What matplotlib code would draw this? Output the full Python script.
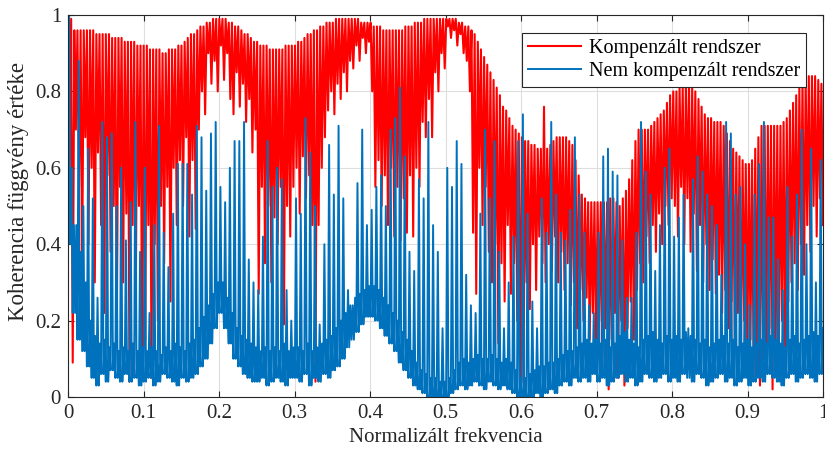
import numpy as np
import matplotlib
matplotlib.use('Agg')
import matplotlib.pyplot as plt

# values, in hundredths
# red: one "top" and one "dip" per cycle, 240 cycles over 0..1
red_top = [
    100, 99, 96, 96, 96, 96, 96, 96, 96, 95, 95, 95, 95, 95, 94, 94, 94, 94, 93, 93, 93, 93, 92, 92,
    92, 92, 91, 91, 91, 91, 90, 90, 91, 91, 91, 92, 92, 93, 94, 95, 95, 96, 97, 97, 98, 98, 99, 99,
    99, 99, 99, 98, 98, 97, 97, 96, 95, 95, 94, 93, 93, 92, 92, 92, 91, 91, 91, 91, 91, 92, 92, 92,
    92, 93, 93, 94, 95, 95, 96, 96, 97, 97, 98, 98, 98, 99, 99, 99, 99, 99, 99, 99, 99, 98, 98, 98,
    98, 97, 97, 97, 96, 96, 96, 96, 96, 96, 96, 97, 97, 97, 98, 98, 98, 99, 99, 99, 99, 99, 99, 99,
    99, 99, 99, 99, 98, 98, 97, 97, 96, 95, 93, 91, 89, 87, 85, 83, 81, 79, 76, 75, 73, 71, 70, 69,
    68, 67, 67, 66, 66, 65, 65, 76, 65, 66, 67, 68, 68, 68, 68, 67, 66, 62, 58, 53, 52, 51, 51, 51,
    51, 51, 51, 51, 52, 52, 51, 50, 52, 54, 57, 62, 67, 70, 70, 70, 70, 71, 72, 73, 74, 75, 77, 79,
    80, 80, 81, 81, 82, 82, 81, 80, 78, 76, 74, 73, 73, 72, 72, 72, 71, 69, 67, 65, 64, 63, 62, 61,
    61, 62, 65, 68, 71, 71, 71, 71, 71, 71, 71, 72, 73, 75, 77, 79, 81, 83, 84, 84, 84, 84, 83, 82,
]
red_dip = [
    62, 9, 70, 55, 35, 68, 40, 60, 30, 64, 45, 22, 58, 38, 50, 18, 55, 30, 48, 4, 45, 25, 50, 12,
    15, 45, 5, 40, 20, 50, 35, 55, 25, 60, 45, 62, 50, 68, 42, 62, 44, 70, 80, 74, 90, 82, 88, 80,
    92, 83, 90, 78, 74, 85, 76, 82, 72, 78, 64, 70, 27, 55, 35, 50, 30, 47, 40, 55, 19, 50, 42, 55,
    60, 48, 63, 52, 58, 45, 4, 45, 60, 68, 75, 80, 74, 82, 78, 85, 80, 88, 86, 92, 88, 94, 90, 93,
    80, 55, 62, 50, 58, 45, 60, 42, 55, 41, 52, 43, 58, 42, 60, 55, 72, 68, 78, 68, 85, 80, 90, 86,
    97, 94, 96, 92, 95, 90, 88, 80, 43, 27, 60, 45, 55, 38, 30, 40, 14, 35, 25, 45, 27, 35, 20, 3,
    4, 30, 23, 40, 28, 42, 35, 30, 40, 33, 42, 30, 38, 28, 35, 24, 30, 18, 28, 20, 26, 15, 22, 14,
    20, 8, 18, 2, 15, 22, 5, 20, 3, 18, 25, 15, 28, 35, 30, 42, 35, 45, 38, 48, 40, 50, 45, 52,
    50, 42, 55, 40, 52, 38, 48, 33, 45, 30, 40, 28, 36, 27, 32, 22, 28, 18, 25, 15, 22, 12, 20, 10,
    15, 5, 12, 3, 10, 8, 18, 2, 15, 12, 20, 10, 25, 30, 35, 28, 40, 32, 45, 38, 50, 42, 52, 45,
]

# blue: 160 cycles over 0..1, each cycle is low, peak, low, mid
blue_peak = [
    100, 45, 88, 50, 65, 52, 26, 72, 68, 69, 50, 60, 41, 51, 72, 38,
    60, 22, 45, 71, 43, 34, 48, 61, 61, 61, 53, 71, 68, 54, 69, 72,
    55, 51, 60, 67, 67, 72, 36, 30, 28, 42, 67, 55, 60, 57, 28, 20,
    52, 48, 73, 64, 50, 19, 40, 66, 53, 71, 52, 28, 24, 56, 70, 45,
    49, 55, 58, 50, 70, 73, 81, 63, 38, 33, 57, 52, 72, 45, 38, 18,
    60, 55, 67, 61, 32, 24, 22, 48, 70, 52, 67, 38, 18, 30, 42, 67,
    74, 48, 25, 18, 52, 43, 72, 53, 43, 41, 49, 68, 53, 43, 24, 22,
    43, 63, 65, 59, 58, 41, 26, 26, 43, 72, 59, 53, 33, 45, 60, 65,
    42, 47, 53, 18, 57, 63, 59, 53, 50, 45, 32, 72, 69, 53, 55, 40,
    24, 53, 61, 72, 47, 47, 36, 28, 55, 42, 53, 70, 40, 65, 30, 62,
]
blue_low = [
    40, 22, 15, 12, 8, 5, 3, 6, 4, 7, 5, 4, 6, 4, 5, 3,
    4, 5, 3, 4, 6, 5, 4, 3, 5, 4, 5, 6, 8, 10, 14, 18,
    22, 18, 14, 10, 8, 6, 5, 4, 4, 5, 3, 4, 5, 4, 3, 5,
    5, 4, 6, 3, 5, 4, 6, 5, 7, 8, 10, 13, 15, 17, 19, 21,
    21, 20, 18, 16, 14, 12, 9, 7, 5, 3, 2, 1, 0, 0, 0, 0,
    0, 1, 2, 3, 2, 3, 4, 3, 2, 4, 3, 2, 3, 2, 1, 0,
    0, 0, 0, 1, 0, 1, 2, 1, 3, 4, 3, 5, 4, 5, 4, 6,
    4, 5, 3, 4, 5, 6, 4, 5, 3, 4, 6, 5, 4, 5, 6, 4,
    5, 4, 6, 5, 4, 6, 5, 3, 4, 5, 6, 4, 5, 3, 4, 5,
    3, 4, 5, 4, 6, 5, 4, 3, 5, 6, 4, 5, 6, 5, 4, 6,
]
blue_mid = [
    60, 45, 38, 30, 20, 16, 14, 15, 13, 14, 12, 13, 12, 14, 12, 13,
    12, 13, 12, 11, 13, 12, 14, 13, 12, 14, 15, 18, 21, 24, 27, 30,
    30, 26, 22, 18, 16, 15, 14, 13, 12, 13, 12, 13, 12, 14, 12, 13,
    13, 12, 14, 12, 13, 14, 15, 16, 18, 20, 22, 24, 26, 27, 28, 29,
    29, 28, 26, 24, 22, 20, 17, 15, 12, 9, 7, 6, 5, 5, 4, 4,
    5, 7, 9, 10, 9, 10, 11, 10, 10, 11, 10, 9, 10, 9, 7, 5,
    5, 6, 7, 8, 8, 9, 9, 10, 11, 12, 12, 13, 14, 15, 14, 15,
    14, 15, 13, 14, 16, 17, 15, 14, 13, 15, 16, 17, 15, 14, 16, 15,
    16, 15, 17, 16, 15, 14, 15, 13, 14, 15, 16, 14, 15, 13, 14, 15,
    13, 14, 15, 14, 16, 15, 14, 13, 15, 16, 14, 15, 16, 17, 16, 18,
]

x_ticks = [0, 0.1, 0.2, 0.3, 0.4, 0.5, 0.6, 0.7, 0.8, 0.9, 1]
x_ticklabels = ['0', '0.1', '0.2', '0.3', '0.4', '0.5', '0.6', '0.7', '0.8', '0.9', '1']
y_ticks = [0, 0.2, 0.4, 0.6, 0.8, 1]
y_ticklabels = ['0', '0.2', '0.4', '0.6', '0.8', '1']
series_names = ['Kompenzált rendszer', 'Nem kompenzált rendszer']

red_y = np.column_stack([red_top, red_dip]).ravel() / 100
red_x = np.linspace(0, 1, len(red_y))
blue_y = np.column_stack([blue_low, blue_peak, blue_low, blue_mid]).ravel() / 100
blue_x = np.linspace(0, 1, len(blue_y))

plt.rcParams['font.family'] = ['Liberation Serif', 'DejaVu Serif']

fig = plt.figure(figsize=(8.25, 4.57), dpi=100)
ax = fig.add_axes([68 / 825, 60 / 457, 755 / 825, 382 / 457])

ax.plot(red_x, red_y, color='#ff0000', lw=1.5, label=series_names[0])
ax.plot(blue_x, blue_y, color='#0072bd', lw=1.4, label=series_names[1])

ax.set_xlim(0, 1)
ax.set_ylim(0, 1)
ax.set_xticks(x_ticks)
ax.set_xticklabels(x_ticklabels)
ax.set_yticks(y_ticks)
ax.set_yticklabels(y_ticklabels)
ax.tick_params(direction='in', top=True, right=True, labelsize=15, colors='#262626',
               length=4, width=0.8, pad=5)
ax.grid(True, color='#dedede', lw=0.8)
ax.set_axisbelow(True)
for s in ax.spines.values():
    s.set_color('#262626')
    s.set_linewidth(0.8)

ax.set_xlabel('Normalizált frekvencia', fontsize=15, color='#262626', labelpad=4)
ax.set_ylabel('Koherencia függvény értéke', fontsize=16.5, color='#262626')
ax.yaxis.set_label_coords(-0.052, 0.537)

leg = ax.legend(loc='upper right', bbox_to_anchor=(0.9775, 0.953), borderaxespad=0,
                fontsize=14.5, fancybox=False, framealpha=1, edgecolor='#262626',
                handlelength=2.6, borderpad=0.3, labelspacing=0.2, handletextpad=0.4)
leg.get_frame().set_linewidth(0.8)

plt.savefig('out.png', dpi=100)
